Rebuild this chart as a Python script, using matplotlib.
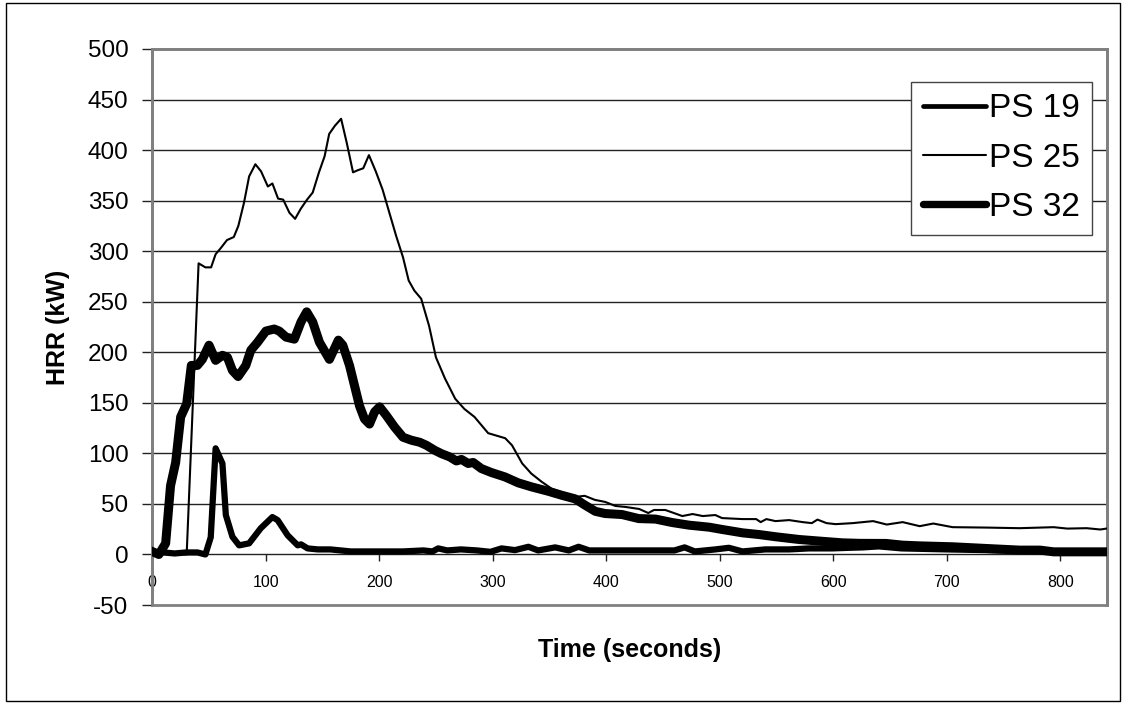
import matplotlib.pyplot as plt
import matplotlib.patches as patches

plt.rcParams['font.family'] = ['Liberation Sans', 'DejaVu Sans']
plt.rcParams['axes.unicode_minus'] = False

# PS 19
t19 = [0, 10, 20, 30, 40, 47, 51.7, 56, 62, 65,
       70.8, 76.7, 85.5, 95.8, 106, 110.6, 119.4, 128.3, 131.2, 137,
       146, 157, 175, 190, 209, 221, 239, 247, 252, 260,
       272, 286, 298, 307.8, 319.6, 331.4, 340, 355, 367, 375.6,
       385, 408, 437, 460, 469, 478, 496, 508, 520, 540,
       561, 578.5, 599, 614, 626, 640, 660, 700, 750, 800,
       841]
v19 = [2, 2, 1, 2, 2, 0, 17, 105, 90, 39,
       17.5, 9, 11, 26, 37, 34, 19, 9, 10, 6,
       5, 5, 3, 3, 3, 3, 4, 3, 6, 4,
       5, 4, 2.6, 6, 4.3, 7.6, 4, 7, 4, 7.6,
       4, 4, 4, 4, 7, 3, 5, 6.6, 3, 5,
       5, 6, 6, 6.6, 7, 8, 6, 5, 4, 3,
       3]

# PS 25
t25 = [0, 10, 20, 30.5, 41, 47, 52, 56, 60.5, 66,
       72, 76, 81, 85.5, 91, 96, 102, 106, 111, 115.5,
       121, 126, 131, 136.5, 141.5, 147, 152, 156, 161, 166.5,
       171.5, 177, 181, 186, 191, 197, 203, 209, 215, 221,
       226, 231, 237, 244, 250, 258, 267, 275, 284, 296,
       305, 311, 317, 326, 334, 343, 352, 364, 373, 381,
       390, 399, 408, 417, 429, 437, 442, 452, 467, 476,
       485, 496, 502, 520, 532, 536, 541, 549, 561, 573,
       581, 586, 594, 602, 617, 635, 647, 661, 676, 688,
       705, 735, 764, 794, 806, 823, 835, 841]
v25 = [1, 2, 1, 0, 288, 284, 284, 297, 303, 311,
       314, 325, 348, 374, 386, 379, 364, 367, 352, 351,
       338, 332, 342, 351, 358, 378, 394, 416, 424, 431,
       407, 378, 380, 382, 395, 379, 361, 338, 315, 294,
       271, 261, 253, 226, 195, 174, 154, 144, 136, 120,
       117, 115, 108, 90, 80, 72, 65, 60, 57, 58,
       54, 52, 48, 47, 45, 41, 44, 44, 38, 40,
       38, 39, 36, 35, 35, 32, 35, 33, 34, 32,
       31, 34.5, 31, 30, 31, 33, 29.6, 32, 28, 30.6,
       27, 26.6, 26, 27, 25.6, 26, 24.7, 25.7]

# PS 32
t32 = [0, 6, 12, 16.3, 20.8, 25.2, 30.5, 34.6, 39.9, 44.3,
       50.2, 56, 62, 66.4, 70.8, 75.8, 82.6, 87, 93, 100.3,
       107.6, 112, 118, 125.3, 131.2, 136.2, 141.5, 147.4, 156.2, 164.1,
       168, 173.9, 178.3, 182.7, 187.1, 191.5, 196, 200.4, 206.3, 213.6,
       221, 228.4, 235.7, 241.6, 249, 254.9, 262.2, 268, 272.5, 278.4,
       282.8, 290, 299, 310.8, 322.6, 334.4, 349, 361, 372.6, 381.4,
       390.3, 399, 413.9, 428.6, 443.4, 458, 472.8, 490.5, 502.2, 520,
       534.6, 549.3, 570, 590.5, 608, 623, 646.5, 661, 676, 705,
       735, 764, 782, 794, 823, 841]
v32 = [3, 0, 11, 68, 91, 136, 149, 187, 187, 193,
       207, 192, 197, 195, 182, 176, 187, 202, 210, 221,
       223, 221, 215, 213, 230, 240, 230, 210, 193, 212,
       207, 187, 167, 147, 134, 129, 141, 146, 137.5, 126,
       116, 113, 111, 108, 103, 99.7, 96.5, 92.5, 94, 90,
       91, 85, 81, 76.7, 70.8, 66.8, 62.5, 58.5, 55, 48.7,
       42.7, 40.5, 39.5, 35.5, 35, 31.6, 29, 27, 24.7, 21.4,
       19.7, 17.5, 14.8, 13, 11.5, 11, 10.9, 9.2, 8.5, 7.6,
       5.9, 4.3, 4.3, 2.6, 2.6, 2.6]

x_ticks = [0, 100, 200, 300, 400, 500, 600, 700, 800]
y_ticks = [-50, 0, 50, 100, 150, 200, 250, 300, 350, 400, 450, 500]

fig = plt.figure(figsize=(11.27, 7.04), dpi=100)
ax = fig.add_axes([0.1349, 0.1406, 0.8474, 0.7898])

# outer border around the whole chart
fig.patches.append(patches.Rectangle((0.0053, 0.0043), 0.9885, 0.9914, transform=fig.transFigure,
                                     fill=False, edgecolor='black', linewidth=1))

for y in y_ticks:
    if y not in (-50, 0, 500):
        ax.axhline(y, color='#222222', linewidth=1, zorder=1)

ax.plot(t19, v19, color='black', linewidth=4.5, label='PS 19', zorder=3, solid_joinstyle='round')
ax.plot(t25, v25, color='black', linewidth=1.5, label='PS 25', zorder=3)
ax.plot(t32, v32, color='black', linewidth=6.5, label='PS 32', zorder=3, solid_joinstyle='round')

ax.set_xlim(0, 841)
ax.set_ylim(-50, 500)
ax.set_xticks(x_ticks)
ax.set_yticks(y_ticks)

for s in ['top', 'right', 'left']:
    ax.spines[s].set_color('#808080')
    ax.spines[s].set_linewidth(2)
ax.spines['bottom'].set_position(('data', 0))
ax.spines['bottom'].set_color('#222222')
ax.spines['bottom'].set_linewidth(1)
ax.spines['bottom'].set_zorder(2)

# gray frame line at the bottom of the plot area
ax.add_patch(patches.Rectangle((0, 0), 1, 1, transform=ax.transAxes, fill=False,
                               edgecolor='#808080', linewidth=2, clip_on=False, zorder=0))

ax.tick_params(axis='y', direction='out', length=7, width=1, color='#222222',
               labelsize=17.5, pad=10)
ax.tick_params(axis='x', direction='out', length=5, width=1, color='#222222',
               labelsize=11.5, pad=10)

ax.set_xlabel('Time (seconds)', fontsize=18, fontweight='bold', va='center')
ax.set_ylabel('HRR (kW)', fontsize=18, fontweight='bold', va='center')
ax.xaxis.set_label_coords(0.5, -0.081)
ax.yaxis.set_label_coords(-0.098, 0.5)

leg = ax.legend(loc='upper right', bbox_to_anchor=(0.984, 0.941), borderaxespad=0,
                fontsize=24, frameon=True, fancybox=False, framealpha=1,
                handlelength=1.9, handletextpad=0.1, borderpad=0.35, labelspacing=0.55)
leg.get_frame().set_edgecolor('#444444')
leg.get_frame().set_linewidth(1)
for line, lw in zip(leg.get_lines(), [3.4, 1.5, 5.3]):
    line.set_linewidth(lw)
    line.set_solid_capstyle('round')

fig.savefig('out.png', dpi=100)
